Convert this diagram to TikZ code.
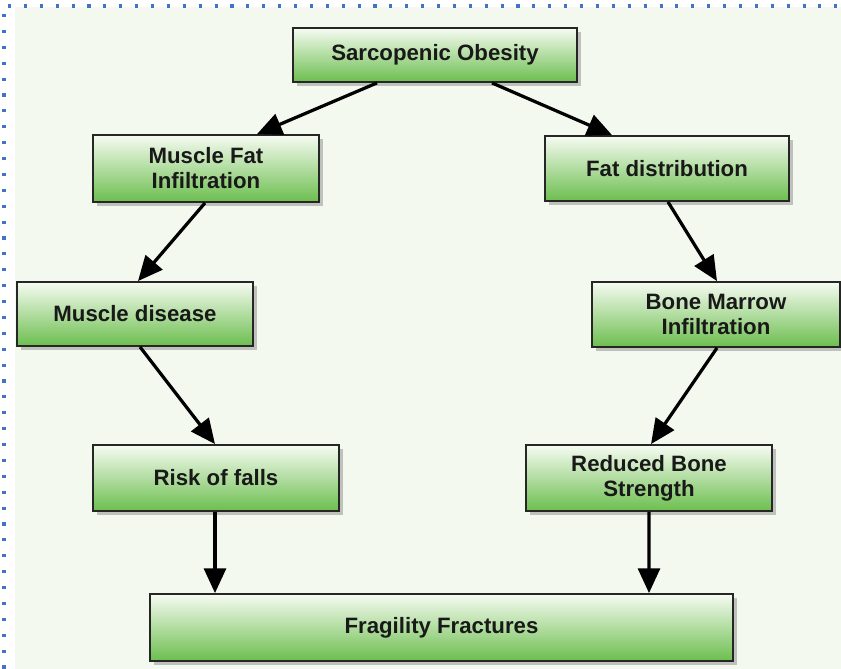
\documentclass[tikz,border=0pt]{standalone}
\usepackage{fontspec}
\setmainfont{Liberation Sans}
\usepackage{xcolor}
\usepackage{tikz}
\usetikzlibrary{positioning, arrows.meta, shadows, calc}

\definecolor{boxtop}{RGB}{246,251,242}
\definecolor{boxbottom}{RGB}{108,190,78}
\definecolor{pagebg}{RGB}{244,249,239}
\definecolor{dotblue}{RGB}{68,114,196}

\begin{document}
\begin{tikzpicture}[
        x=0.025cm, y=-0.025cm,
        box_style/.style={draw=black!85, line width=1.3pt, top color=boxtop, bottom color=boxbottom,
            drop shadow={shadow xshift=0.09cm, shadow yshift=-0.09cm, opacity=0.45},
            align=center, text=black!90, inner sep=0pt,
            font=\fontsize{15.8}{17.7}\selectfont\bfseries},
        arrow_style/.style={line width=2.3pt, -{Triangle[width=0.55cm, length=0.62cm]}},
        dot_style/.style={dotblue, line width=2.2pt, dash pattern=on 2.2pt off 9.1pt}
    ]
        \useasboundingbox (0,0) rectangle (841,669);

        % Page background and dotted frame
        \fill[pagebg] (15,7) rectangle (841,669);
        \draw[dot_style] (8,6) -- (841,6);
        \draw[dot_style] (4,14) -- (4,669);

        % Boxes
        \node[box_style, minimum width=7.1cm, minimum height=1.35cm] (obesity) at (435,55) {Sarcopenic Obesity};
        \node[box_style, minimum width=5.65cm, minimum height=1.675cm] (musclefat) at (206,168.5) {Muscle Fat\\Infiltration};
        \node[box_style, minimum width=6.1cm, minimum height=1.625cm] (fatdist) at (667,168.5) {Fat distribution};
        \node[box_style, minimum width=5.9cm, minimum height=1.6cm] (disease) at (135,314) {Muscle disease};
        \node[box_style, minimum width=6.2cm, minimum height=1.625cm] (marrow) at (716,314.5) {Bone Marrow\\Infiltration};
        \node[box_style, minimum width=6.15cm, minimum height=1.65cm] (falls) at (216,478) {Risk of falls};
        \node[box_style, minimum width=6.15cm, minimum height=1.65cm] (strength) at (649,478) {Reduced Bone\\Strength};
        \node[box_style, minimum width=14.575cm, minimum height=1.675cm] (fractures) at (441.5,627.5) {Fragility Fractures};

        % Arrows
        \draw[arrow_style] ($(obesity.south)+(-58,0)$) -- ($(musclefat.north)+(51,0)$);
        \draw[arrow_style] ($(obesity.south)+(57,0)$) -- ($(fatdist.north)+(-55,0)$);
        \draw[arrow_style] ($(musclefat.south)+(-1,0)$) -- ($(disease.north)+(3,0)$);
        \draw[arrow_style] ($(fatdist.south)+(1,0)$) -- ($(marrow.north)+(1,0)$);
        \draw[arrow_style] ($(disease.south)+(5,0)$) -- ($(falls.north)+(-1,0)$);
        \draw[arrow_style] ($(marrow.south)+(1,0)$) -- ($(strength.north)+(2,0)$);
        \draw[arrow_style] ($(falls.south)+(-1,0)$) -- ($(fractures.north)+(-226.5,0)$);
        \draw[arrow_style] (strength.south) -- ($(fractures.north)+(207.5,0)$);
    \end{tikzpicture}
\end{document}
